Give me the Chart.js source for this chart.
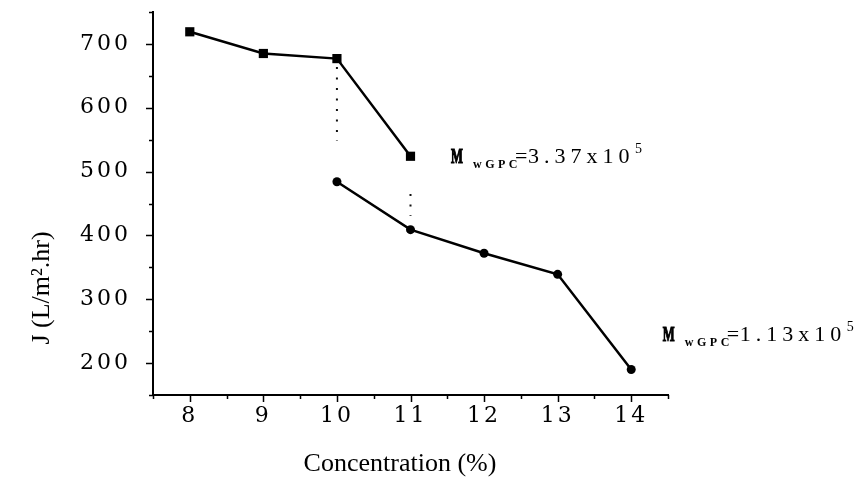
<!DOCTYPE html>
<html>
<head>
<meta charset="utf-8">
<script src="https://cdn.jsdelivr.net/npm/chart.js@4.4.1/dist/chart.umd.min.js"></script>
<style>
  body { margin: 0; background: #fff; }
</style>
</head>
<body>
<canvas id="grafica" width="854" height="485"></canvas>
<script>
// concentracion (%) contra flujo J (L/m2.hr)
var concAlto = [8, 9, 10, 11];
var fluxAlto = [719, 685, 677, 524];
var concBajo = [10, 11, 12, 13, 14];
var fluxBajo = [484, 409, 372, 339, 190];

// lineas punteadas verticales entre las dos curvas
var concPunteada = [10, 11];
var fluxPuntTop = [664, 465];
var fluxPuntBot = [548, 431];

// etiquetas de los ejes
var ticksX = [8, 9, 10, 11, 12, 13, 14];
var ticksY = [200, 300, 400, 500, 600, 700];

// textos de peso molecular
var pesoNum = ['3.37', '1.13'];
var pesoExp = ['5', '5'];

function pares(xs, ys) {
  return xs.map(function (x, i) { return {x: x, y: ys[i]}; });
}

var punteadas = concPunteada.map(function (c, i) {
  return {
    data: [{x: c, y: fluxPuntTop[i]}, {x: c, y: fluxPuntBot[i]}],
    showLine: true,
    borderColor: '#111',
    borderWidth: 2,
    borderDash: [2, 8.5],
    pointRadius: 0
  };
});

function textoPeso(ctx, x, y, num, exp) {
  ctx.textAlign = 'left';
  ctx.textBaseline = 'alphabetic';
  ctx.fillStyle = '#000';
  ctx.strokeStyle = '#000';
  ctx.letterSpacing = '0px';
  ctx.save();
  ctx.translate(x, y);
  ctx.scale(0.6, 1);
  ctx.font = 'bold 21px "Liberation Serif"';
  ctx.lineWidth = 1.2;
  ctx.fillText('M', 0, 0);
  ctx.strokeText('M', 0, 0);
  ctx.restore();
  ctx.letterSpacing = '3.5px';
  ctx.font = 'bold 12px "Liberation Serif"';
  ctx.fillText('wGPC', x + 22, y + 5);
  ctx.letterSpacing = '0px';
  ctx.font = '22px "Liberation Serif"';
  ctx.fillText('=', x + 64, y);
  ctx.letterSpacing = '5px';
  ctx.fillText(num + 'x10', x + 77, y);
  ctx.letterSpacing = '0px';
  ctx.font = '14px "Liberation Serif"';
  ctx.fillText(exp, x + 184, y - 10);
}

var extras = {
  id: 'extras',
  beforeDraw: function (chart) {
    chart.ctx.letterSpacing = '3px';
  },
  afterDraw: function (chart) {
    var ctx = chart.ctx;
    var sx = chart.scales.x, sy = chart.scales.y;
    var area = chart.chartArea;
    ctx.save();
    ctx.letterSpacing = '0px';
    ctx.strokeStyle = '#000';
    ctx.lineWidth = 1.5;
    ctx.beginPath();
    for (var v = sx.min; v <= sx.max + 0.001; v += 0.5) {
      var px = Math.round(sx.getPixelForValue(v)) + 0.5;
      var l = (Math.abs(v % 1) < 0.01) ? 7 : 4;
      ctx.moveTo(px, area.bottom);
      ctx.lineTo(px, area.bottom + l);
    }
    for (var w = sy.min; w <= sy.max + 0.001; w += 50) {
      var py = Math.round(sy.getPixelForValue(w)) + 0.5;
      var l2 = (w % 100 === 0) ? 7 : 4;
      ctx.moveTo(area.left, py);
      ctx.lineTo(area.left - l2, py);
    }
    ctx.stroke();

    // titulos de los ejes
    ctx.fillStyle = '#000';
    ctx.font = '26px "Liberation Serif"';
    ctx.textAlign = 'center';
    ctx.textBaseline = 'middle';
    ctx.fillText('Concentration (%)', area.left + 247, area.bottom + 69);
    ctx.save();
    ctx.translate(42, 288);
    ctx.rotate(-Math.PI / 2);
    ctx.fillText('J (L/m\u00B2.hr)', 0, 0);
    ctx.restore();

    // etiquetas de peso molecular
    textoPeso(ctx, sx.getPixelForValue(11.55), sy.getPixelForValue(fluxAlto[3]) + 7, pesoNum[0], pesoExp[0]);
    textoPeso(ctx, sx.getPixelForValue(14.43), sy.getPixelForValue(fluxBajo[4]) - 28, pesoNum[1], pesoExp[1]);
    ctx.restore();
  }
};

var graph = document.getElementById('grafica');
var chart = new Chart(graph, {
  type: 'scatter',
  data: {
    datasets: [{
      data: pares(concAlto, fluxAlto),
      showLine: true,
      borderColor: '#000',
      borderWidth: 2.5,
      pointStyle: 'rect',
      pointRadius: 6.5,
      pointBackgroundColor: '#000',
      pointBorderColor: '#000',
      pointBorderWidth: 0
    }, {
      data: pares(concBajo, fluxBajo),
      showLine: true,
      borderColor: '#000',
      borderWidth: 2.5,
      pointStyle: 'circle',
      pointRadius: 4.5,
      pointBackgroundColor: '#000',
      pointBorderColor: '#000',
      pointBorderWidth: 0
    }].concat(punteadas)
  },
  options: {
    responsive: false,
    animation: false,
    layout: { padding: { left: 0, top: 12, right: 186, bottom: 0 } },
    plugins: {
      legend: { display: false },
      tooltip: { enabled: false }
    },
    scales: {
      x: {
        type: 'linear',
        min: 7.5,
        max: 14.5,
        grid: { display: false, drawTicks: false },
        border: { display: true, color: '#000', width: 2 },
        ticks: {
          padding: 8,
          color: '#000',
          font: { family: '"DejaVu Serif"', size: 22 }
        },
        afterBuildTicks: function (s) {
          s.ticks = ticksX.map(function (v) { return {value: v}; });
        },
        afterFit: function (s) {
          s.height = 90;
          s.paddingLeft = 0;
          s.paddingRight = 0;
        }
      },
      y: {
        min: 150,
        max: 750,
        grid: { display: false, drawTicks: false },
        border: { display: true, color: '#000', width: 2 },
        ticks: {
          padding: 22,
          color: '#000',
          font: { family: '"DejaVu Serif"', size: 22 }
        },
        afterBuildTicks: function (s) {
          s.ticks = ticksY.map(function (v) { return {value: v}; });
        },
        afterFit: function (s) {
          s.width = 153;
          s.paddingTop = 0;
          s.paddingBottom = 0;
        }
      }
    }
  },
  plugins: [extras]
});
</script>
</body>
</html>
